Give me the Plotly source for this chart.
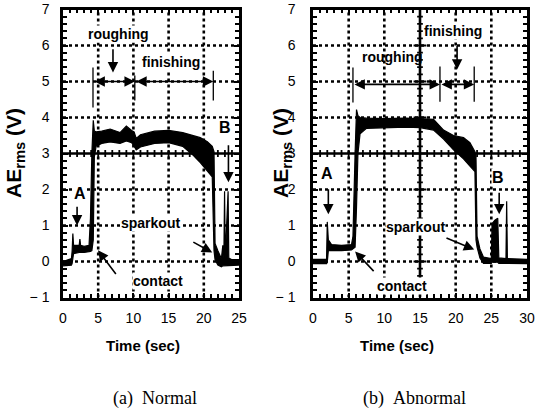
import numpy as np
import plotly.graph_objects as go

# ---------------- data ----------------
# (a) Normal: time (s), upper and lower envelope of AE_rms trace (V)
norm_t = [0.0, 0.3, 1.2, 1.3, 1.4, 1.5, 2.3, 2.4, 2.5, 3.0, 3.7, 3.9, 4.1, 4.3, 4.45, 4.7,
          5.5, 6.7, 8.1, 9.0, 9.75, 10.1, 10.4, 11.0, 13.0, 15.0, 17.0, 18.5, 19.5, 20.5,
          21.2, 21.45, 21.6, 22.0, 22.5, 22.7, 22.85, 22.95, 23.05, 23.45, 23.55, 24.0, 25.0]
norm_up = [0.02, 0.02, 0.08, 0.30, 0.78, 0.45, 0.45, 0.62, 0.45, 0.42, 0.45, 1.2, 3.0, 3.92, 3.62, 3.60,
           3.62, 3.68, 3.58, 3.76, 3.64, 3.60, 3.42, 3.52, 3.62, 3.64, 3.58, 3.50, 3.44, 3.33,
           3.20, 3.05, 0.50, 0.30, 0.08, 0.45, 0.10, 1.95, 0.10, 1.95, 0.10, 0.05, 0.05]
norm_low = [-0.12, -0.12, -0.10, -0.05, 0.05, 0.22, 0.25, 0.25, 0.25, 0.25, 0.27, 0.28, 0.30, 0.60, 2.9, 3.2,
            3.28, 3.32, 3.28, 3.35, 3.30, 3.20, 3.10, 3.18, 3.28, 3.30, 3.20, 2.95, 2.75, 2.52,
            2.35, 0.30, 0.05, -0.10, -0.15, -0.12, -0.12, -0.10, -0.10, -0.10, -0.10, -0.10, -0.10]

# (b) Abnormal
abn_t = [0.0, 1.9, 2.0, 2.15, 2.6, 4.0, 5.4, 5.6, 5.9, 6.1, 6.3, 6.6, 7.5, 10.0, 13.0, 15.0,
         16.9, 18.3, 19.7, 21.1, 22.0, 22.7, 22.85, 23.0, 23.4, 23.9, 25.0, 25.1, 25.5, 25.9,
         26.05, 27.05, 27.15, 27.25, 30.0]
abn_up = [0.06, 0.06, 1.10, 0.60, 0.47, 0.45, 0.47, 0.70, 3.00, 4.22, 4.05, 4.00, 3.98, 3.97, 3.98, 3.97,
          3.95, 3.65, 3.50, 3.44, 3.30, 3.05, 2.90, 0.70, 0.35, 0.12, 0.08, 1.05, 1.15, 1.20,
          0.10, 0.08, 1.67, 0.08, 0.06]
abn_low = [-0.06, -0.06, -0.02, 0.30, 0.30, 0.30, 0.32, 0.35, 0.40, 1.50, 3.00, 3.55, 3.70, 3.72, 3.73, 3.72,
           3.65, 3.40, 3.10, 2.85, 2.65, 2.50, 0.60, 0.40, 0.10, -0.05, -0.05, -0.02, -0.02, -0.02,
           -0.05, -0.05, -0.05, -0.05, -0.06]

y_ticks = [-1, 0, 1, 2, 3, 4, 5, 6, 7]
y_ticktext = ["\u2212 1", "0", "1", "2", "3", "4", "5", "6", "7"]
xl_ticks = [0, 5, 10, 15, 20, 25]
xr_ticks = [0, 5, 10, 15, 20, 25, 30]
captions = ["(a)&nbsp;&nbsp;Normal", "(b)&nbsp;&nbsp;Abnormal"]

SANS = "Liberation Sans, Arial, sans-serif"
SERIF = "Liberation Serif, Times New Roman, serif"

fig = go.Figure()

def band(t, up, low, xa, ya):
    fig.add_trace(go.Scatter(x=t + t[::-1], y=up + low[::-1], fill="toself",
                             fillcolor="black", mode="lines",
                             line=dict(color="black", width=1.2),
                             xaxis=xa, yaxis=ya, showlegend=False, hoverinfo="skip"))

band(norm_t, norm_up, norm_low, "x", "y")
band(abn_t, abn_up, abn_low, "x2", "y2")

# ---- oscilloscope graticule (decoration, drawn as shapes) ----
def seg(xr, yr, x0, y0, x1, y1, w, dash="solid"):
    fig.add_shape(type="line", xref=xr, yref=yr, x0=x0, x1=x1, y0=y0, y1=y1, layer="above",
                  line=dict(color="black", width=w, dash=dash))

def graticule(xt, xmax, xr, yr, vcross):
    for v in xt[1:-1]:
        if vcross is not None and v == vcross:
            continue
        seg(xr, yr, v, -1, v, 7, 2.6, "dot")
    for v in y_ticks[1:-1]:
        if v == 3:
            continue
        seg(xr, yr, 0, v, xmax, v, 2.6, "dot")
    # horizontal crosshair at 3 V with ruler ticks every 1 s
    seg(xr, yr, 0, 3, xmax, 3, 2.6)
    for tx in np.arange(1, xmax, 1.0):
        seg(xr, yr, tx, 2.9, tx, 3.1, 1.8)
    if vcross is not None:
        seg(xr, yr, vcross, -1, vcross, 7, 2.6)
        for ty in np.arange(-0.8, 6.9, 0.2):
            half = 0.9 if abs(ty - round(ty)) < 1e-6 else 0.4
            seg(xr, yr, vcross - half, ty, vcross + half, ty, 1.8)

graticule(xl_ticks, 25, "x", "y", None)
graticule(xr_ticks, 30, "x2", "y2", 15)

axis = dict(showgrid=False, automargin=False,
            showline=True, linecolor="black", linewidth=2.5, mirror="ticks",
            ticks="inside", ticklen=5, tickwidth=1.6, tickcolor="black",
            zeroline=False, tickfont=dict(family=SANS, size=14, color="black"))
minor = dict(ticks="inside", ticklen=4, tickwidth=1.5, tickcolor="black", showgrid=False)

ydom = [1 - 297.5 / 414, 1 - 9.5 / 414]
fig.update_layout(
    template="none",
    width=539, height=414, margin=dict(l=0, r=0, t=0, b=0, autoexpand=False),
    paper_bgcolor="white", plot_bgcolor="white",
    xaxis=dict(domain=[63 / 539, 239 / 539], range=[0, 25], tickvals=xl_ticks, anchor="y",
               ticklabelstandoff=6, minor={**minor, "tickvals": list(np.arange(1, 25, 1.0))}, **axis),
    yaxis=dict(domain=ydom, range=[-1, 7], tickvals=y_ticks, ticktext=y_ticktext, anchor="x",
               ticklabelstandoff=8, minor={**minor, "tickvals": list(np.round(np.arange(-0.8, 7, 0.2), 2))}, **axis),
    xaxis2=dict(domain=[313 / 539, 527 / 539], range=[0, 30], tickvals=xr_ticks, anchor="y2",
                ticklabelstandoff=6, minor={**minor, "tickvals": list(np.arange(1, 30, 1.0))}, **axis),
    yaxis2=dict(domain=ydom, range=[-1, 7], tickvals=y_ticks, ticktext=y_ticktext, anchor="x2",
                ticklabelstandoff=12, minor={**minor, "tickvals": list(np.round(np.arange(-0.8, 7, 0.2), 2))}, **axis),
)

ann = []
def label(xr, yr, x, y, s, size=14, bg="white"):
    ann.append(dict(x=x, y=y, xref=xr, yref=yr, text="<b>" + s + "</b>", showarrow=False,
                    xanchor="center", yanchor="middle", bgcolor=bg, borderpad=0,
                    font=dict(family=SANS, size=size, color="black")))

def arrow(xr, yr, x0, y0, x1, y1, both=False):
    ann.append(dict(x=x1, y=y1, ax=x0, ay=y0, xref=xr, yref=yr, axref=xr, ayref=yr, text="",
                    showarrow=True, arrowhead=2, arrowsize=1.3, arrowwidth=1.6, arrowcolor="black",
                    standoff=0, startstandoff=0, arrowside="end+start" if both else "end",
                    startarrowhead=2, startarrowsize=1.3))

# left panel labels
label("x", "y", 7.95, 6.33, "roughing")
arrow("x", "y", 7.1, 5.94, 7.1, 5.25)
label("x", "y", 15.3, 5.53, "finishing")
arrow("x", "y", 4.26, 5.0, 10.2, 5.0, both=True)
arrow("x", "y", 10.2, 5.0, 21.35, 5.0, both=True)
label("x", "y", 2.4, 1.89, "A", 16)
arrow("x", "y", 2.0, 1.56, 2.0, 1.0)
label("x", "y", 23.0, 3.72, "B", 16)
arrow("x", "y", 23.5, 3.27, 23.5, 2.2)
label("x", "y", 12.4, 1.08, "sparkout")
label("x", "y", 13.5, -0.53, "contact")
arrow("x", "y", 7.67, -0.39, 4.97, 0.31)
arrow("x", "y", 18.3, 0.56, 21.2, 0.25)

# right panel labels
label("x2", "y2", 19.6, 6.39, "finishing")
arrow("x2", "y2", 20.2, 6.03, 20.2, 5.33)
label("x2", "y2", 11.1, 5.69, "roughing", bg="rgba(0,0,0,0)")
arrow("x2", "y2", 5.6, 4.92, 17.8, 4.92, both=True)
arrow("x2", "y2", 17.8, 4.92, 22.6, 4.92, both=True)
label("x2", "y2", 2.0, 2.44, "A", 16)
arrow("x2", "y2", 2.15, 2.05, 2.15, 1.31)
label("x2", "y2", 25.9, 2.33, "B", 16)
arrow("x2", "y2", 26.1, 1.95, 26.1, 1.31)
label("x2", "y2", 14.3, 0.97, "sparkout")
label("x2", "y2", 12.5, -0.67, "contact")
arrow("x2", "y2", 8.7, -0.31, 5.9, 0.28)
arrow("x2", "y2", 18.5, 0.67, 22.6, 0.33)

# axis titles and captions
for xp in (15, 282):
    ann.append(dict(x=xp / 539, y=1 - 153 / 414, xref="paper", yref="paper", textangle=-90,
                    xanchor="center", yanchor="middle",
                    text="<b>AE<sub>rms</sub> (V)</b>", showarrow=False,
                    font=dict(family=SANS, size=21, color="black")))
for xp in (143, 397):
    ann.append(dict(x=xp / 539, y=1 - 345 / 414, xref="paper", yref="paper",
                    xanchor="center", yanchor="middle",
                    text="<b>Time (sec)</b>", showarrow=False,
                    font=dict(family=SANS, size=15, color="black")))
for xp, cap in zip((155, 414), captions):
    ann.append(dict(x=xp / 539, y=1 - 398 / 414, xref="paper", yref="paper", text=cap,
                    xanchor="center", yanchor="middle",
                    showarrow=False, font=dict(family=SERIF, size=18, color="black")))

fig.update_layout(annotations=ann)

# end bars of the double arrows
bars = [("x", "y", 4.26, 4.28, 5.39), ("x", "y", 10.2, 4.47, 5.17), ("x", "y", 21.35, 4.47, 5.3),
        ("x2", "y2", 5.6, 4.42, 5.39), ("x2", "y2", 17.8, 4.44, 5.42), ("x2", "y2", 22.6, 4.44, 5.42)]
for xr, yr, bx, b0, b1 in bars:
    seg(xr, yr, bx, b0, bx, b1, 1.3)

fig.write_html("out.html")
